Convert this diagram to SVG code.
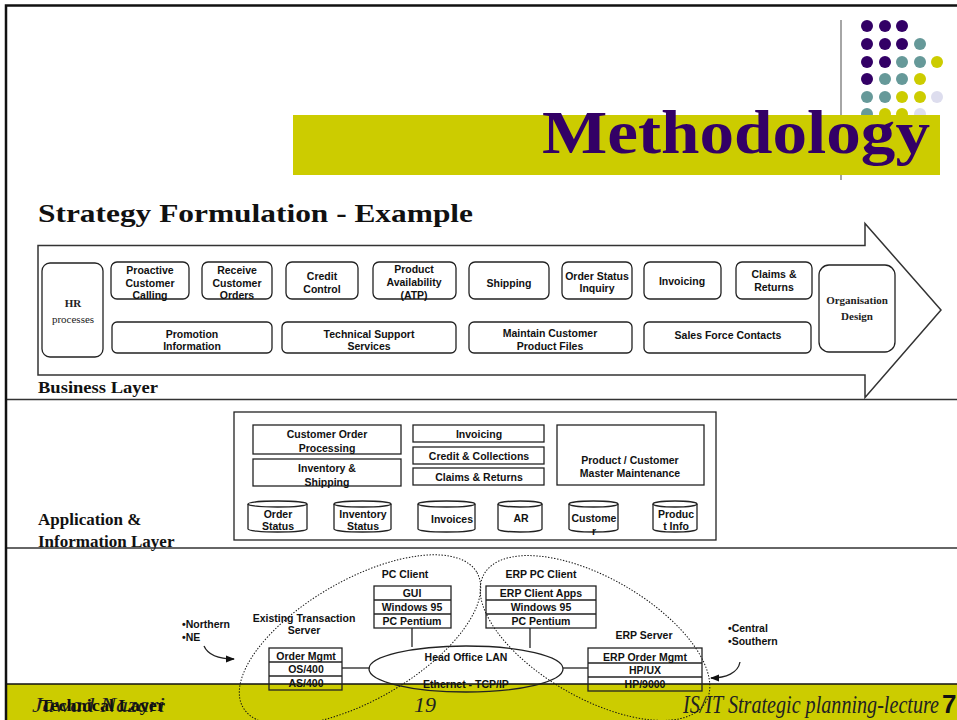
<svg xmlns="http://www.w3.org/2000/svg" width="957" height="720" viewBox="0 0 957 720">
  <style>
    .frame { fill: none; stroke: #111; stroke-width: 2.5; }
    .sep { stroke: #333; stroke-width: 1.5; }
    .box { fill: none; stroke: #222; stroke-width: 1.3; }
    .ln { stroke: #222; stroke-width: 1.3; fill: none; }
    .dot { fill: none; stroke: #111; stroke-width: 1; stroke-dasharray: 1.4 1.6; }
    .t { font-family: "Liberation Sans", Arial, sans-serif; font-weight: bold; font-size: 10.5px; fill: #111; text-anchor: middle; }
    .tl { font-family: "Liberation Sans", Arial, sans-serif; font-weight: bold; font-size: 10.5px; fill: #111; text-anchor: start; }
    .ts { font-family: "Liberation Serif", "Times New Roman", serif; font-size: 11px; fill: #222; text-anchor: middle; }
    .lay { font-family: "Liberation Serif", "Times New Roman", serif; font-weight: bold; font-size: 17px; fill: #111; }
    .pur { fill: #330066; } .tea { fill: #669999; } .yel { fill: #CCCC00; } .lav { fill: #DDDDEE; }
  </style>
  <defs>
    <marker id="ah" viewBox="0 0 10 10" refX="9" refY="5" markerWidth="7" markerHeight="7" orient="auto">
      <path d="M0,1 L10,5 L0,9 z" fill="#111"/>
    </marker>
  </defs>

  <rect x="0" y="0" width="957" height="720" fill="#fff"/>

  <!-- dot grid -->
  <g id="dots">
    <circle class="pur" cx="867" cy="26" r="6"/><circle class="pur" cx="885" cy="26" r="6"/><circle class="pur" cx="902" cy="26" r="6"/>
    <circle class="pur" cx="867" cy="44" r="6"/><circle class="pur" cx="885" cy="44" r="6"/><circle class="pur" cx="902" cy="44" r="6"/><circle class="tea" cx="920" cy="44" r="6"/>
    <circle class="pur" cx="867" cy="62" r="6"/><circle class="pur" cx="885" cy="62" r="6"/><circle class="tea" cx="902" cy="62" r="6"/><circle class="tea" cx="920" cy="62" r="6"/><circle class="yel" cx="937" cy="62" r="6"/>
    <circle class="pur" cx="867" cy="79" r="6"/><circle class="tea" cx="885" cy="79" r="6"/><circle class="tea" cx="902" cy="79" r="6"/><circle class="yel" cx="920" cy="79" r="6"/>
    <circle class="tea" cx="867" cy="97" r="6"/><circle class="tea" cx="885" cy="97" r="6"/><circle class="yel" cx="902" cy="97" r="6"/><circle class="yel" cx="920" cy="97" r="6"/><circle class="lav" cx="937" cy="97" r="6"/>
    <circle class="tea" cx="867" cy="114" r="6"/><circle class="yel" cx="885" cy="114" r="6"/><circle class="yel" cx="902" cy="114" r="6"/><circle class="lav" cx="920" cy="114" r="6"/>
  </g>
  <line x1="841" y1="20" x2="841" y2="180" stroke="#888" stroke-width="1.5"/>

  <!-- title band -->
  <g id="title">
    <rect x="293" y="115" width="647" height="60" fill="#CCCC00"/>
    <text x="542" y="153" font-family="'Liberation Serif', 'Times New Roman', serif" font-weight="bold" font-size="62" fill="#330066" textLength="388" lengthAdjust="spacingAndGlyphs">Methodology</text>
  </g>
  <text x="38" y="222" font-family="'Liberation Serif', 'Times New Roman', serif" font-weight="bold" font-size="25" fill="#111" textLength="435" lengthAdjust="spacingAndGlyphs">Strategy Formulation - Example</text>

  <!-- layer separators -->
  <line class="sep" x1="6" y1="399.5" x2="957" y2="399.5"/>
  <line class="sep" x1="6" y1="548" x2="957" y2="548"/>

  <!-- business layer arrow -->
  <g id="business-arrow">
    <path d="M38,245.5 L865,245.5 L865,223.5 L941,310 L865,397.5 L865,375 L38,375 Z" fill="#fff" stroke="#333" stroke-width="1.5"/>
  </g>
  <text class="lay" x="38" y="393" textLength="120" lengthAdjust="spacingAndGlyphs">Business Layer</text>

  <g id="hr"><rect class="box" x="42" y="263" width="61" height="94" rx="8"/>
    <text class="ts" x="73" y="307" font-weight="bold">HR</text><text class="ts" x="73" y="323">processes</text></g>
  <g id="proactive"><rect class="box" x="111" y="262" width="78" height="37" rx="6"/>
    <text class="t" x="150" y="274">Proactive</text><text class="t" x="150" y="287">Customer</text><text class="t" x="150" y="299">Calling</text></g>
  <g id="receive"><rect class="box" x="202" y="262" width="70" height="37" rx="6"/>
    <text class="t" x="237" y="274">Receive</text><text class="t" x="237" y="287">Customer</text><text class="t" x="237" y="299">Orders</text></g>
  <g id="credit"><rect class="box" x="286" y="262" width="72" height="37" rx="6"/>
    <text class="t" x="322" y="280">Credit</text><text class="t" x="322" y="293">Control</text></g>
  <g id="atp"><rect class="box" x="373" y="262" width="83" height="37" rx="6"/>
    <text class="t" x="414" y="273">Product</text><text class="t" x="414" y="286">Availability</text><text class="t" x="414" y="299">(ATP)</text></g>
  <g id="shipping"><rect class="box" x="469" y="262" width="80" height="37" rx="6"/>
    <text class="t" x="509" y="287">Shipping</text></g>
  <g id="order-status"><rect class="box" x="562" y="262" width="70" height="37" rx="6"/>
    <text class="t" x="597" y="280">Order Status</text><text class="t" x="597" y="292">Inquiry</text></g>
  <g id="invoicing"><rect class="box" x="644" y="262" width="77" height="37" rx="6"/>
    <text class="t" x="682" y="285">Invoicing</text></g>
  <g id="claims"><rect class="box" x="736" y="262" width="76" height="37" rx="6"/>
    <text class="t" x="774" y="278">Claims &amp;</text><text class="t" x="774" y="291">Returns</text></g>
  <g id="org-design"><rect class="box" x="819" y="265" width="76" height="87" rx="10"/>
    <text class="ts" x="857" y="304" font-weight="bold">Organisation</text><text class="ts" x="857" y="320" font-weight="bold">Design</text></g>
  <g id="promotion"><rect class="box" x="112" y="322" width="160" height="31" rx="5"/>
    <text class="t" x="192" y="338">Promotion</text><text class="t" x="192" y="350">Information</text></g>
  <g id="tech-support"><rect class="box" x="282" y="322" width="174" height="31" rx="5"/>
    <text class="t" x="369" y="338">Technical Support</text><text class="t" x="369" y="350">Services</text></g>
  <g id="maintain"><rect class="box" x="469" y="322" width="163" height="31" rx="5"/>
    <text class="t" x="550" y="337">Maintain  Customer</text><text class="t" x="550" y="350">Product Files</text></g>
  <g id="sales-force"><rect class="box" x="644" y="322" width="167" height="31" rx="5"/>
    <text class="t" x="728" y="339">Sales Force Contacts</text></g>

  <!-- application & information layer -->
  <text class="lay" x="38" y="525">Application &amp;</text>
  <text class="lay" x="38" y="547">Information Layer</text>
  <g id="app-frame"><rect class="box" x="234" y="412" width="482" height="128"/></g>
  <g id="cop"><rect class="box" x="253" y="425" width="148" height="29"/>
    <text class="t" x="327" y="438">Customer Order</text><text class="t" x="327" y="452">Processing</text></g>
  <g id="inv-ship"><rect class="box" x="253" y="459" width="148" height="27"/>
    <text class="t" x="327" y="472">Inventory &amp;</text><text class="t" x="327" y="486">Shipping</text></g>
  <g id="app-invoicing"><rect class="box" x="413" y="425" width="131" height="17"/>
    <text class="t" x="479" y="438">Invoicing</text></g>
  <g id="app-credit"><rect class="box" x="413" y="447" width="131" height="17"/>
    <text class="t" x="479" y="460">Credit &amp; Collections</text></g>
  <g id="app-claims"><rect class="box" x="413" y="468" width="131" height="17"/>
    <text class="t" x="479" y="481">Claims &amp; Returns</text></g>
  <g id="master"><rect class="box" x="557" y="425" width="147" height="60"/>
    <text class="t" x="630" y="464">Product / Customer</text><text class="t" x="630" y="477">Master Maintenance</text></g>

  <g id="db-order-status"><path class="ln" d="M248,504 V529 A29.5,3 0 0 0 307,529 V504"/><ellipse class="box" cx="277.5" cy="504" rx="29.5" ry="3"/>
    <text class="t" x="278" y="518">Order</text><text class="t" x="278" y="530">Status</text></g>
  <g id="db-inv-status"><path class="ln" d="M334,504 V529 A28.5,3 0 0 0 391,529 V504"/><ellipse class="box" cx="362.5" cy="504" rx="28.5" ry="3"/>
    <text class="t" x="363" y="518">Inventory</text><text class="t" x="363" y="530">Status</text></g>
  <g id="db-invoices"><path class="ln" d="M418,504 V529 A28.5,3 0 0 0 475,529 V504"/><ellipse class="box" cx="446.5" cy="504" rx="28.5" ry="3"/>
    <text class="t" x="452" y="523">Invoices</text></g>
  <g id="db-ar"><path class="ln" d="M498,504 V529 A22,3 0 0 0 542,529 V504"/><ellipse class="box" cx="520" cy="504" rx="22" ry="3"/>
    <text class="t" x="521" y="522">AR</text></g>
  <g id="db-customer"><path class="ln" d="M569,504 V529 A24.5,3 0 0 0 618,529 V504"/><ellipse class="box" cx="593.5" cy="504" rx="24.5" ry="3"/>
    <text class="t" x="594" y="522">Custome</text><text class="t" x="594" y="535">r</text></g>
  <g id="db-product"><path class="ln" d="M653,504 V529 A22,3 0 0 0 697,529 V504"/><ellipse class="box" cx="675" cy="504" rx="22" ry="3"/>
    <text class="t" x="676" y="518">Produc</text><text class="t" x="676" y="530">t Info</text></g>

  <!-- footer band -->
  <g id="footer">
    <rect x="6" y="684" width="951" height="36" fill="#CCCC00"/>
    <line x1="6" y1="684" x2="957" y2="684" stroke="#111" stroke-width="1.5"/>
    <text x="425" y="712" font-family="'Liberation Serif', 'Times New Roman', serif" font-style="italic" font-size="22" fill="#222" text-anchor="middle">19</text>
    <text x="683" y="713" font-family="'Liberation Serif', 'Times New Roman', serif" font-style="italic" font-size="25" fill="#222" textLength="256" lengthAdjust="spacingAndGlyphs">IS/IT Strategic planning-lecture</text>
    <text x="942" y="713" font-family="'Liberation Sans', Arial, sans-serif" font-weight="bold" font-size="26" fill="#111">7</text>
    <text x="32" y="712" font-family="'Liberation Serif', 'Times New Roman', serif" font-style="italic" font-size="20" fill="#222" textLength="133" lengthAdjust="spacingAndGlyphs">Jawad Nazari</text>
  </g>
  <text x="40" y="711" font-family="'Liberation Serif', 'Times New Roman', serif" font-weight="bold" font-size="16" fill="#111" textLength="125" lengthAdjust="spacingAndGlyphs">Technical Layer</text>

  <!-- technical layer -->
  <g id="connectors">
    <ellipse class="dot" cx="360" cy="640" rx="135" ry="60" transform="rotate(-30 360 640)"/>
    <ellipse class="dot" cx="595" cy="638" rx="128" ry="60" transform="rotate(30 595 638)"/>
    <line class="ln" x1="412" y1="628" x2="412" y2="647"/>
    <line class="ln" x1="530" y1="628" x2="530" y2="648"/>
    <line class="ln" x1="342" y1="668" x2="370" y2="668"/>
    <line class="ln" x1="563" y1="668" x2="588" y2="668"/>
    <path class="ln" d="M204,646 C208,655 220,659 234,659" marker-end="url(#ah)"/>
    <path class="ln" d="M740,662 C738,673 726,678 711,678" marker-end="url(#ah)"/>
  </g>
  <g id="lan"><ellipse class="ln" cx="466" cy="669" rx="97" ry="23"/>
    <text class="t" x="466" y="661">Head Office LAN</text><text class="t" x="466" y="688">Ethernet - TCP/IP</text></g>
  <g id="pc-client">
    <text class="t" x="405" y="578">PC Client</text>
    <rect class="box" x="374" y="586" width="77" height="42"/>
    <line class="ln" x1="374" y1="600" x2="451" y2="600"/><line class="ln" x1="374" y1="614" x2="451" y2="614"/>
    <text class="t" x="412" y="597">GUI</text><text class="t" x="412" y="611">Windows 95</text><text class="t" x="412" y="625">PC Pentium</text>
  </g>
  <g id="erp-pc-client">
    <text class="t" x="541" y="578">ERP PC Client</text>
    <rect class="box" x="486" y="586" width="110" height="42"/>
    <line class="ln" x1="486" y1="600" x2="596" y2="600"/><line class="ln" x1="486" y1="614" x2="596" y2="614"/>
    <text class="t" x="541" y="597">ERP Client Apps</text><text class="t" x="541" y="611">Windows 95</text><text class="t" x="541" y="625">PC Pentium</text>
  </g>
  <g id="transaction-server">
    <text class="t" x="304" y="622">Existing Transaction</text><text class="t" x="304" y="634">Server</text>
    <rect class="box" x="269" y="648" width="73" height="42"/>
    <line class="ln" x1="269" y1="662" x2="342" y2="662"/><line class="ln" x1="269" y1="676" x2="342" y2="676"/>
    <text class="t" x="306" y="660">Order Mgmt</text><text class="t" x="306" y="673">OS/400</text><text class="t" x="306" y="687">AS/400</text>
  </g>
  <g id="erp-server">
    <text class="t" x="644" y="639">ERP Server</text>
    <rect class="box" x="588" y="648" width="114" height="43"/>
    <line class="ln" x1="588" y1="663" x2="702" y2="663"/><line class="ln" x1="588" y1="677" x2="702" y2="677"/>
    <text class="t" x="645" y="661">ERP Order Mgmt</text><text class="t" x="645" y="674">HP/UX</text><text class="t" x="645" y="688">HP/9000</text>
  </g>
  <g id="north-note"><text class="tl" x="182" y="628">•Northern</text><text class="tl" x="182" y="641">•NE</text></g>
  <g id="south-note"><text class="tl" x="728" y="632">•Central</text><text class="tl" x="728" y="645">•Southern</text></g>

  <!-- slide frame -->
  <rect class="frame" x="6" y="5.5" width="970" height="730"/>
</svg>
